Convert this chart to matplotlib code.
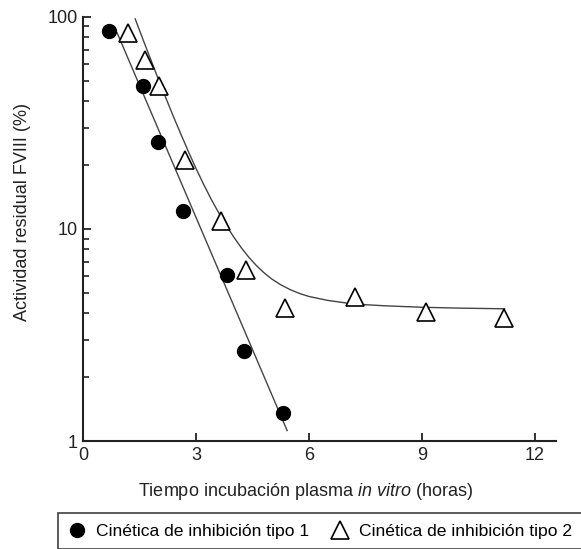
import matplotlib
matplotlib.use("Agg")
import matplotlib.pyplot as plt
from matplotlib.lines import Line2D

plt.rcParams['font.family'] = ['Liberation Sans', 'DejaVu Sans']
plt.rcParams['mathtext.fontset'] = 'custom'
plt.rcParams['mathtext.rm'] = 'Liberation Sans'
plt.rcParams['mathtext.it'] = 'Liberation Sans:italic'

# Data
t1_hours = [0.69, 1.59, 1.99, 2.65, 3.82, 4.27, 5.30]
t1_activity = [86, 47.3, 25.7, 12.2, 6.07, 2.66, 1.35]

t2_hours = [1.19, 1.64, 2.02, 2.71, 3.66, 4.32, 5.35, 7.22, 9.11, 11.19]
t2_activity = [83.8, 62.5, 47.1, 21.1, 10.9, 6.38, 4.23, 4.76, 4.04, 3.79]

# Fitted curves
fit1_hours = [0.9, 5.42]
fit1_activity = [83.8, 1.12]

fit2_hours = [1.38, 1.6, 1.8, 2.0, 2.2, 2.4, 2.6, 2.8, 3.0, 3.2, 3.4, 3.6, 3.8,
              4.0, 4.2, 4.4, 4.6, 4.8, 5.0, 5.25, 5.5, 5.75, 6.0, 6.5, 7.0,
              7.5, 8.0, 9.0, 10.0, 11.2]
fit2_activity = [97.6, 77.0, 62.4, 50.5, 41.2, 33.7, 27.8, 23.0, 19.2, 16.2,
                 13.8, 11.9, 10.4, 9.15, 8.15, 7.35, 6.72, 6.22, 5.82, 5.45,
                 5.17, 4.96, 4.8, 4.6, 4.47, 4.39, 4.34, 4.27, 4.23, 4.2]

x_ticks = [0, 3, 6, 9, 12]
y_ticks = [1, 10, 100]
y_ticklabels = ['1', '10', '100']

label1 = 'Cinética de inhibición tipo 1'
label2 = 'Cinética de inhibición tipo 2'

fig = plt.figure(figsize=(5.81, 5.49), dpi=100)
ax = fig.add_axes([0.1434, 0.1967, 0.957 - 0.1434, 0.9696 - 0.1967])

lc = '#444444'
ax.plot(fit1_hours, fit1_activity, color=lc, lw=1.0, zorder=2)
ax.plot(fit2_hours, fit2_activity, color=lc, lw=1.0, zorder=2)

ax.plot(t1_hours, t1_activity, linestyle='none', marker='o', markersize=10,
        markerfacecolor='black', markeredgecolor='black', zorder=3)
ax.plot(t2_hours, t2_activity, linestyle='none', marker='^', markersize=12.5,
        markerfacecolor='white', markeredgecolor='black', markeredgewidth=1.2, zorder=3)

ax.set_yscale('log')
ax.set_ylim(1, 100)
ax.set_xlim(0, 12.57)
ax.set_xticks(x_ticks)
ax.set_xticklabels([str(v) for v in x_ticks])
ax.set_yticks(y_ticks)
ax.set_yticklabels(y_ticklabels)

for s in ['top', 'right']:
    ax.spines[s].set_visible(False)
for s in ['left', 'bottom']:
    ax.spines[s].set_linewidth(1.5)
    ax.spines[s].set_color('#222222')

ax.tick_params(axis='both', which='major', direction='in', length=6, width=1.3,
               labelsize=13, colors='#222222', pad=4)
ax.tick_params(axis='y', which='minor', direction='in', length=4, width=1.2, colors='#222222')
ax.yaxis.set_minor_formatter(matplotlib.ticker.NullFormatter())

ax.set_xlabel('Tiempo incubación plasma $\\it{in\\ vitro}$ (horas)', fontsize=13, color='#222222')
ax.set_ylabel('Actividad residual FVIII (%)', fontsize=13, color='#222222')
ax.xaxis.set_label_coords(0.47, -0.095)
ax.yaxis.set_label_coords(-0.11, 0.54)

h1 = Line2D([], [], linestyle='none', marker='o', markersize=10, markerfacecolor='black',
            markeredgecolor='black')
h2 = Line2D([], [], linestyle='none', marker='^', markersize=13, markerfacecolor='white',
            markeredgecolor='black', markeredgewidth=1.2)
leg = fig.legend([h1, h2], [label1, label2], ncol=2, loc='upper left',
                 bbox_to_anchor=(58 / 581, 1 - 513 / 549), frameon=True, fancybox=False,
                 edgecolor='#222222', fontsize=12.6, handlelength=1.0, handletextpad=0.55,
                 columnspacing=1.3, borderpad=0.6, borderaxespad=0)
leg.get_frame().set_linewidth(1.3)

fig.savefig('out.png', dpi=100)
